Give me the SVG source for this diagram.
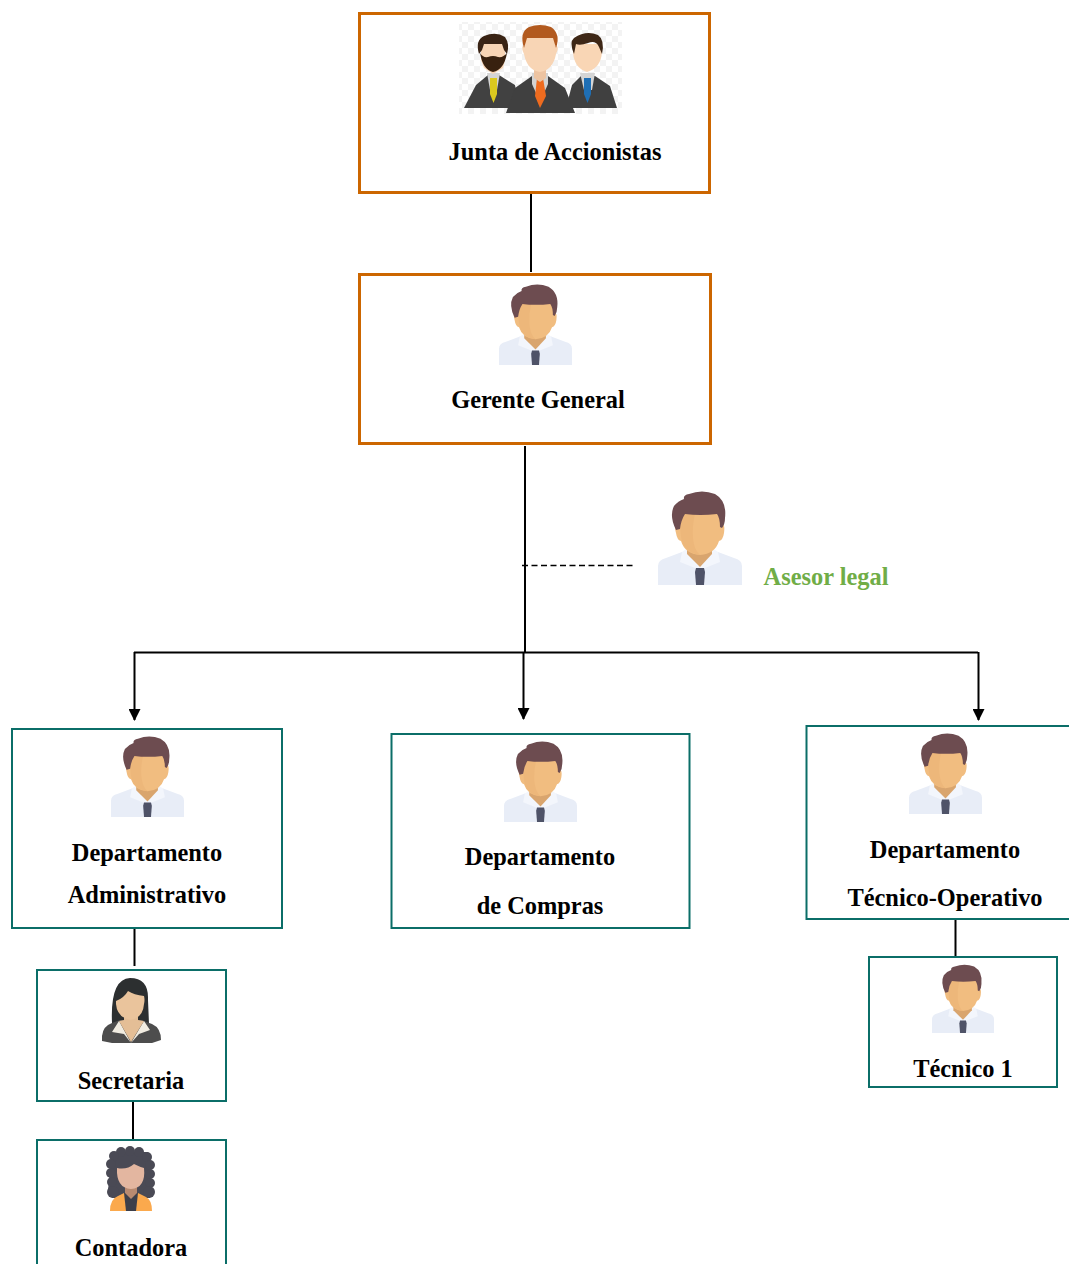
<svg xmlns="http://www.w3.org/2000/svg" width="1069" height="1264" viewBox="0 0 1069 1264">
<style>
.o{fill:#fff;stroke:#cc6600;stroke-width:3}
.t{fill:#fff;stroke:#0b6e68;stroke-width:2}
.c{fill:none;stroke:#000;stroke-width:2}
text{font-family:"Liberation Serif","Times New Roman",serif;font-weight:700;font-size:24.4px;fill:#000;text-anchor:middle}
.curl{fill:#4a4a55}
</style>
<defs>
<marker id="a" markerUnits="userSpaceOnUse" markerWidth="12" markerHeight="12" refX="11" refY="6" orient="auto"><path d="M0 0L12 6L0 12Z" fill="#000"/></marker>
<symbol id="man" viewBox="0 0 84 93" preserveAspectRatio="none" overflow="visible">
<path d="M0 74Q0 68 8 66L24 60H60L76 66Q84 68 84 74V93H0Z" fill="#e8edf7"/>
<path d="M24 60L30 56H54L60 60L62 70L47 76H37L22 70Z" fill="#f3f6fc"/>
<path d="M29 48H54V62L42 75L29 62Z" fill="#d9a56e"/>
<path d="M18 33Q16 33 18 41Q19 48 23 49Q27 62 42 63Q57 62 61 49Q65 48 66 41Q67 33 65 33V14H20Z" fill="#f1bd80"/>
<path d="M22 28Q22 48 26 54Q32 62 42 63Q36 58 35 46Q34 34 37 22H24Z" fill="#edb77a"/>
<path d="M18 38Q11 24 16 14Q20 9 26 7Q25 3 31 2Q44 -3 57 2Q69 9 67 26Q67 32 64 36L62 35Q62 26 59 22Q42 24 27 22Q23 28 22 37Z" fill="#6d4c50"/>
<path d="M38 76H46L47 80L46 93H38L37 80Z" fill="#4f5368"/>
</symbol>
<pattern id="ck" width="12" height="12" patternUnits="userSpaceOnUse"><rect width="12" height="12" fill="#fff"/><rect width="6" height="6" fill="#f3f3f3"/><rect x="6" y="6" width="6" height="6" fill="#f3f3f3"/></pattern>
</defs>
<g id="connectors">
<path class="c" d="M531 193V272"/>
<path class="c" d="M525 446V652"/>
<path d="M522 565.500H634" fill="none" stroke="#000" stroke-width="1.300" stroke-dasharray="6 3.500"/>
<path class="c" d="M134 652.500H978"/>
<path class="c" d="M134.500 652V720" marker-end="url(#a)"/>
<path class="c" d="M523.500 652V719" marker-end="url(#a)"/>
<path class="c" d="M978.500 652V720" marker-end="url(#a)"/>
<path class="c" d="M134.500 929V966"/>
<path class="c" d="M133 1102V1139"/>
<path class="c" d="M955.500 920V957"/>
</g>
<g id="junta">
<rect class="o" x="359.500" y="13.500" width="350" height="179"/>
<rect x="459" y="22" width="163" height="92" fill="url(#ck)"/>
<g id="trio">
<path d="M464 108L476 85L488 75H499L515 85L520 108Z" fill="#414141"/>
<path d="M487 73H500L497 90H490Z" fill="#d5d5d5"/>
<path d="M490 78H497L497 94L493.500 103L490 94Z" fill="#dcc91f"/>
<path d="M481 42H505V60L503 68L493 74L484 68L481 60Z" fill="#f8d5b5"/>
<path d="M480 53Q483 70 493 72Q504 70 507 53Q503 58 498 57Q493 55 488 57Q483 58 480 53Z" fill="#38210f"/>
<path d="M479 54Q475 40 484 36Q496 31 505 37Q510 44 507 54L504 50L502 44H484L482 50Z" fill="#3a2415"/>
<path d="M566 108L572 85L581 76H595L610 86L617 108Z" fill="#404040"/>
<path d="M580 73H595L592 90H584Z" fill="#d5d5d5"/>
<path d="M584 78H591L591 94L587.500 103L584 94Z" fill="#1f6fb5"/>
<path d="M573 44H602V52Q601 68 587 72Q574 68 573 52Z" fill="#f9d6b5"/>
<path d="M574 54Q569 42 574 38Q586 30 598 35Q605 40 602 54L599 47Q596 40 588 43Q580 46 576 44Z" fill="#3e2716"/>
<path d="M506 113L515 88L532 76H548L565 88L575 113Z" fill="#404040"/>
<path d="M532 73H548V84L544 93H536L532 84Z" fill="#d3d3d3"/>
<path d="M537 78H543L546 96L540 108L535 96Z" fill="#ee6b1f"/>
<path d="M534 66H546V78L540 82L534 78Z" fill="#edc4a2"/>
<path d="M525 46L523 46Q521 48 524 54Q527 70 540 72Q553 70 556 54Q559 48 557 46L555 46V34H525Z" fill="#f8d5b5"/>
<path d="M524 48Q519 32 529 27Q540 23 551 27Q561 34 556 48L553 38H527Z" fill="#b25a1f"/>
</g>
<text x="555" y="160">Junta de Accionistas</text>
</g>
<g id="gerente">
<rect class="o" x="359.500" y="274.500" width="351" height="169"/>
<use href="#man" x="499" y="285" width="73" height="80"/>
<text x="538" y="408">Gerente General</text>
</g>
<g id="asesor">
<use href="#man" x="658" y="492" width="84" height="93"/>
<text x="826" y="585" style="fill:#70ad47">Asesor legal</text>
</g>
<g id="dep-admin">
<rect class="t" x="12" y="729" width="270" height="199"/>
<use href="#man" x="111" y="737" width="73" height="80"/>
<text x="147" y="861">Departamento</text>
<text x="147" y="903">Administrativo</text>
</g>
<g id="dep-compras">
<rect class="t" x="391.500" y="734" width="298" height="194"/>
<use href="#man" x="504" y="742" width="73" height="80"/>
<text x="540" y="865">Departamento</text>
<text x="540" y="914">de Compras</text>
</g>
<g id="dep-tecnico">
<rect class="t" x="806.500" y="726" width="270" height="193"/>
<use href="#man" x="909" y="734" width="73" height="80"/>
<text x="945" y="858">Departamento</text>
<text x="945" y="906">Técnico-Operativo</text>
</g>
<g id="secretaria">
<rect class="t" x="37" y="970" width="189" height="131"/>
<path d="M112 1023Q110 979 130 978Q149 978 148 1000L149 1024Z" fill="#2c2f30"/>
<path d="M102 1036Q103 1026 112 1023L120 1020H141L152 1024Q161 1028 161 1040L152 1043H112L102 1041Z" fill="#4d4d4d"/>
<path d="M119 1021L131 1043L144 1021L150 1030L139 1034L131 1043L124 1034L112 1032Z" fill="#f1ece1"/>
<path d="M124 1012H138V1020L144 1021L131 1042L119 1021L124 1020Z" fill="#e4be96"/>
<path d="M116 1001Q124 998 128 991Q134 995 144 996Q145 1000 144 1004Q143 1018 130 1020Q117 1017 116 1004Z" fill="#eac49c"/>
<text x="131" y="1089">Secretaria</text>
</g>
<g id="contadora">
<rect class="t" x="37" y="1140" width="189" height="135"/>
<path class="curl" d="M112 1152H148L152 1190L150 1198H112L108 1190Z"/>
<circle class="curl" cx="130" cy="1151" r="5"/><circle class="curl" cx="121" cy="1152" r="5"/><circle class="curl" cx="139" cy="1152" r="5"/>
<circle class="curl" cx="114" cy="1156" r="5"/><circle class="curl" cx="147" cy="1157" r="5"/>
<circle class="curl" cx="111" cy="1164" r="5"/><circle class="curl" cx="150" cy="1165" r="5"/>
<circle class="curl" cx="111" cy="1173" r="5"/><circle class="curl" cx="150" cy="1174" r="5"/>
<circle class="curl" cx="112" cy="1182" r="5"/><circle class="curl" cx="150" cy="1183" r="5"/>
<circle class="curl" cx="113" cy="1192" r="6"/><circle class="curl" cx="149" cy="1192" r="6"/>
<path d="M110 1211Q110 1199 118 1196L124 1193H138L146 1197Q152 1200 152 1211Z" fill="#fba94d"/>
<path d="M124 1193H138L136 1211H126Z" fill="#3d3f4a"/>
<path d="M125 1182H137V1193L131 1199L125 1193Z" fill="#b98a70"/>
<path d="M117 1168Q127 1170 134 1164Q140 1167 144 1168Q146 1188 131 1189Q116 1188 117 1168Z" fill="#e3b6a0"/>
<text x="131" y="1256">Contadora</text>
</g>
<g id="tecnico1">
<rect class="t" x="869" y="957" width="188" height="130"/>
<use href="#man" x="932" y="965" width="62" height="68"/>
<text x="963" y="1077">Técnico 1</text>
</g>
</svg>
